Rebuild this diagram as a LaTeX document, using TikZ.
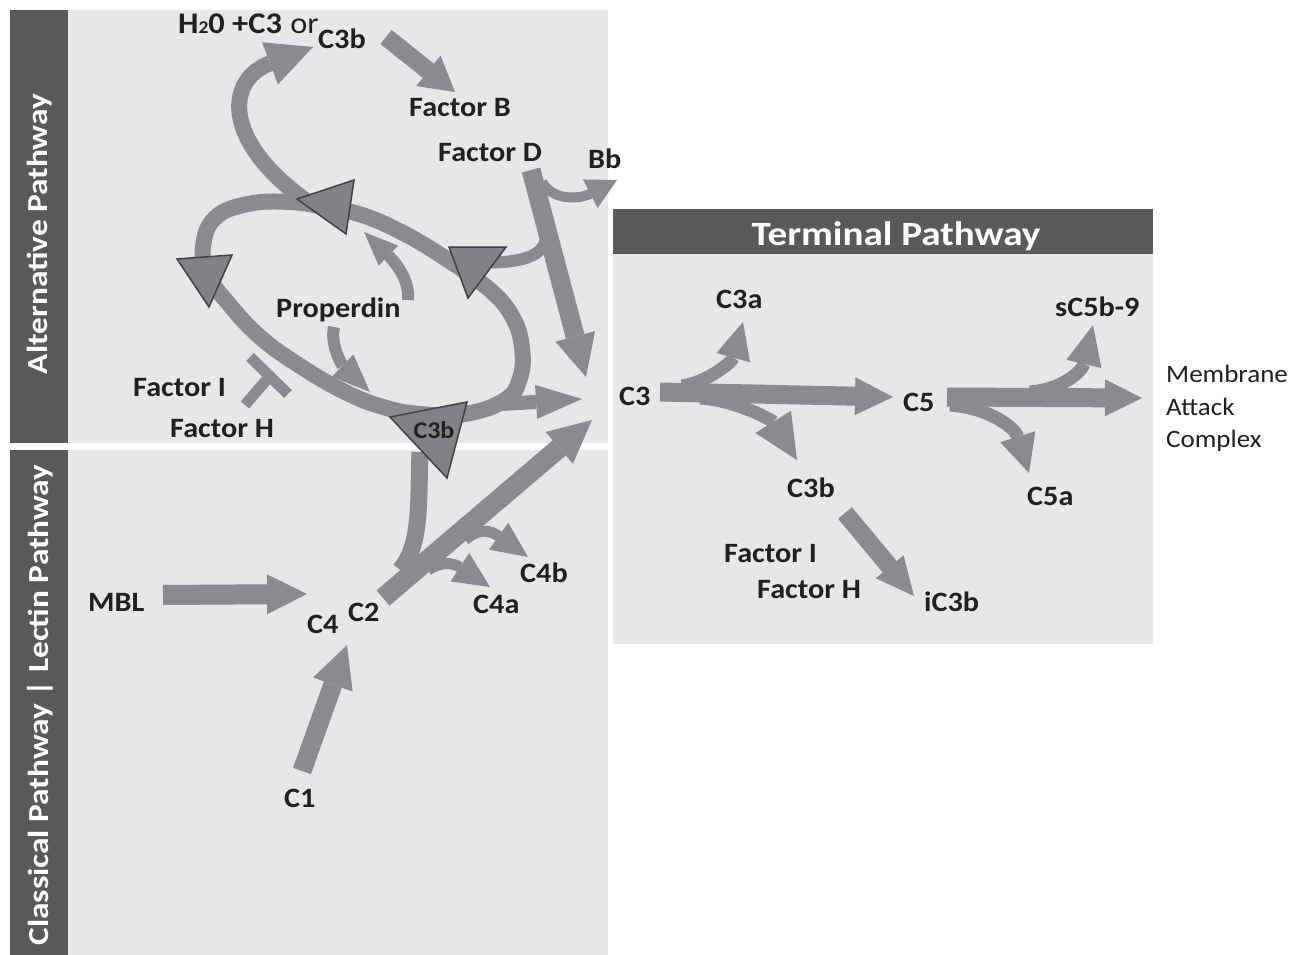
\documentclass[tikz,border=0pt]{standalone}
\usepackage{fontspec}
\setmainfont{Carlito}[FakeStretch=1.08]
\newfontfamily\barfont{Carlito}[FakeStretch=1.15]
\usetikzlibrary{arrows.meta}
\definecolor{panel}{HTML}{E6E7E8}
\definecolor{bar}{HTML}{58595B}
\definecolor{flowgray}{HTML}{8A8B8E}
\definecolor{trigray}{HTML}{818285}
\definecolor{triedge}{HTML}{414042}
\definecolor{ink}{HTML}{231F20}
\tikzset{
  flow/.style={draw=flowgray, line width=#1},
  tiphead/.style 2 args={-{Triangle[width=#1,length=#2,line width=0pt]}},
  marker/.style={fill=trigray, draw=triedge, line width=1.5pt, line join=miter},
  lbl/.style={font=\fontsize{28}{30}\selectfont\bfseries, text=ink, inner sep=0pt, anchor=base west},
  plain/.style={font=\fontsize{25}{27}\selectfont, text=ink, inner sep=0pt, anchor=base west},
  sidelbl/.style={font=\barfont\fontsize{29}{31}\selectfont\bfseries, text=white, inner sep=0pt, rotate=90},
}
\begin{document}
\begin{tikzpicture}[x=1pt,y=-1pt]
\useasboundingbox (0,0) rectangle (1301,955);

% panels
\fill[panel] (68,10) rectangle (608,443);
\fill[bar] (10,10) rectangle (68,443);
\fill[panel] (68,450) rectangle (608,955);
\fill[bar] (10,450) rectangle (68,955);
\fill[bar] (613,209) rectangle (1153,254);
\fill[panel] (613,254) rectangle (1153,644);

\node[sidelbl] (altbar) at (40,234) {Alternative Pathway};
\node[sidelbl] (clsbar) at (40,705) {Classical Pathway | Lectin Pathway};
\node[font=\barfont\fontsize{34}{36}\selectfont\bfseries, text=white, inner sep=0pt, anchor=base] (termbar) at (896,245) {Terminal Pathway};

% labels
\node[lbl, font=\fontsize{30}{32}\selectfont\bfseries] (h2o) at (178,34) {H{\fontsize{18}{18}\selectfont 2}0 +C3\hspace{1pt} {\mdseries or}};
\node[lbl] (c3btop) at (318,49) {C3b};
\node[lbl] (facB) at (409,117) {Factor B};
\node[lbl] (facD) at (438,161) {Factor D};
\node[lbl] (bb) at (588,168) {Bb};
\node[lbl] (prop) at (276,317) {Properdin};
\node[lbl] (facI) at (133,396) {Factor I};
\node[lbl] (facH) at (170,437) {Factor H};
\node[lbl] (mbl) at (88,611) {MBL};
\node[lbl] (c4) at (307,633) {C4};
\node[lbl] (c2) at (348,621) {C2};
\node[lbl] (c4a) at (473,613) {C4a};
\node[lbl] (c4b) at (520,582) {C4b};
\node[lbl] (c1) at (284,807) {C1};
\node[lbl] (c3) at (619,405) {C3};
\node[lbl] (c3a) at (716,308) {C3a};
\node[lbl] (c5) at (903,411) {C5};
\node[lbl] (sc5b) at (1055,316) {sC5b-9};
\node[lbl] (c3bt) at (787,497) {C3b};
\node[lbl] (c5a) at (1027,505) {C5a};
\node[lbl] (facIt) at (724,562) {Factor I};
\node[lbl] (facHt) at (757,598) {Factor H};
\node[lbl] (ic3b) at (924,611) {iC3b};
\node[plain] (mem) at (1166,382) {Membrane};
\node[plain] (att) at (1166,415) {Attack};
\node[plain] (cpx) at (1166,447) {Complex};

% connector end points
\coordinate (loopTop) at (305,200);
\coordinate (topTip) at (313,47);
\coordinate (c3bOut) at (386,37);
\coordinate (facBIn) at (455,92);
\coordinate (facDOut) at (531,170);
\coordinate (conv1) at (586,377);
\coordinate (bbFork) at (542,182);
\coordinate (bbIn) at (617,180);
\coordinate (triFork) at (545,242);
\coordinate (triIn) at (478,262);
\coordinate (loopExit) at (502,404);
\coordinate (conv2) at (582,399);
\coordinate (propUp) at (408,300);
\coordinate (propUpTip) at (364,232);
\coordinate (propDn) at (334,327);
\coordinate (propDnTip) at (370,392);
\coordinate (inhStem) at (245,405);
\coordinate (inhBar) at (269,377);
\coordinate (inhA) at (250,357);
\coordinate (inhB) at (288,394);
\coordinate (c2Out) at (383,598);
\coordinate (conv3) at (592,420);
\coordinate (c3bFork) at (400,570);
\coordinate (c3bTri) at (420,452);
\coordinate (c4aFork) at (428,570);
\coordinate (c4aIn) at (490,587);
\coordinate (c4bFork) at (465,540);
\coordinate (c4bIn) at (528,557);
\coordinate (mblOut) at (163,595);
\coordinate (c4In) at (307,594);
\coordinate (c1Out) at (302,771);
\coordinate (c2In) at (347,645);
\coordinate (c3Out) at (660,392);
\coordinate (c5In) at (893,397);
\coordinate (c3aFork) at (682,386);
\coordinate (c3aIn) at (743,322);
\coordinate (c3bFork2) at (700,398);
\coordinate (c3bIn2) at (797,460);
\coordinate (c5Out) at (947,397);
\coordinate (macIn) at (1142,398);
\coordinate (sc5Fork) at (1030,392);
\coordinate (sc5In) at (1093,325);
\coordinate (c5aFork) at (950,405);
\coordinate (c5aIn) at (1029,473);
\coordinate (ic3Out) at (845,513);
\coordinate (ic3In) at (914,596);

% amplification loop
\draw[flow=16] plot[smooth cycle, tension=0.7] coordinates {
  (203,247) (215,218) (248,204) (290,202) (330,208) (365,216) (405,234)
  (445,258) (490,290) (513,318) (522,348) (520,378) (505,400) (465,414)
  (420,414) (383,407) (345,392) (300,366) (260,337) (228,303) (208,275)};

% alternative pathway connectors
\draw[flow=16, tiphead={45pt}{46pt}] (loopTop) .. controls (222,140) and (226,80) .. (topTip);
\draw[flow=18, tiphead={39pt}{34pt}] (c3bOut) -- (facBIn);
\draw[flow=19, tiphead={41pt}{42pt}] (facDOut) -- (conv1);
\draw[flow=10, tiphead={32pt}{30pt}] (bbFork) .. controls (552,200) and (578,200) .. (bbIn);
\draw[flow=12] (triFork) .. controls (540,258) and (515,264) .. (triIn);
\draw[flow=14, tiphead={34pt}{46pt}] (loopExit) -- (conv2);
\draw[flow=12, tiphead={28pt}{34pt}] (propUp) .. controls (410,280) and (395,262) .. (propUpTip);
\draw[flow=12, tiphead={31pt}{38pt}] (propDn) .. controls (330,345) and (342,365) .. (propDnTip);
\draw[flow=11] (inhStem) -- (inhBar);
\draw[flow=11] (inhA) -- (inhB);

% classical / lectin pathway connectors
\draw[flow=17] (c3bFork) .. controls (422,545) and (418,500) .. (c3bTri);
\draw[flow=20, tiphead={42pt}{43pt}] (c2Out) -- (conv3);
\draw[flow=11, tiphead={34pt}{36pt}] (c4aFork) .. controls (440,562) and (452,562) .. (c4aIn);
\draw[flow=11, tiphead={33pt}{36pt}] (c4bFork) .. controls (478,528) and (490,530) .. (c4bIn);
\draw[flow=20, tiphead={40pt}{40pt}] (mblOut) -- (c4In);
\draw[flow=19, tiphead={42pt}{42pt}] (c1Out) -- (c2In);

% terminal pathway connectors
\draw[flow=19, tiphead={38pt}{38pt}] (c3Out) -- (c5In);
\draw[flow=13, tiphead={35pt}{37pt}] (c3aFork) .. controls (708,382) and (732,362) .. (c3aIn);
\draw[flow=13, tiphead={42pt}{45pt}] (c3bFork2) .. controls (735,400) and (772,420) .. (c3bIn2);
\draw[flow=19, tiphead={37pt}{37pt}] (c5Out) -- (macIn);
\draw[flow=13, tiphead={36pt}{40pt}] (sc5Fork) .. controls (1060,390) and (1082,372) .. (sc5In);
\draw[flow=13, tiphead={37pt}{38pt}] (c5aFork) .. controls (990,408) and (1015,428) .. (c5aIn);
\draw[flow=18, tiphead={36pt}{38pt}] (ic3Out) -- (ic3In);

% direction markers on the loop
\draw[marker] (297,199) -- (354,180) -- (346,234) -- cycle;
\draw[marker] (177,259) -- (232,255) -- (209,307) -- cycle;
\draw[marker] (449,247) -- (506,247) -- (468,298) -- cycle;
\draw[marker] (390,417) -- (467,402) -- (447,478) -- cycle;
\node[font=\fontsize{24}{26}\selectfont\bfseries, text=ink, inner sep=0pt] (c3bmark) at (434,430) {C3b};
\end{tikzpicture}
\end{document}
